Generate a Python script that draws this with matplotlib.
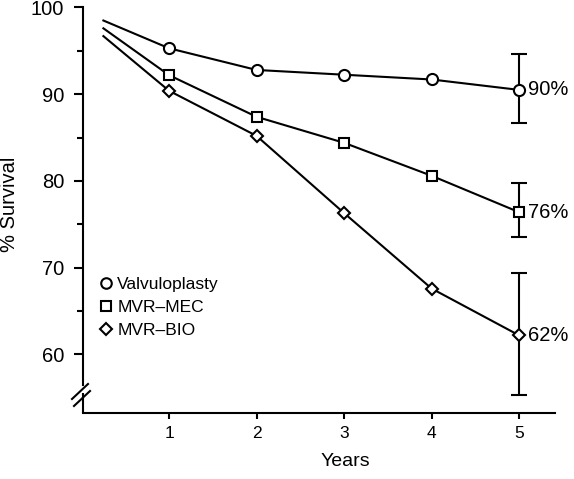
import matplotlib
matplotlib.use("Agg")
import matplotlib.pyplot as plt
from matplotlib.lines import Line2D

plt.rcParams['font.family'] = ['Liberation Sans', 'DejaVu Sans']

years = [1, 2, 3, 4, 5]
start_x = 0.25
series_names = ["Valvuloplasty", "MVR\u2013MEC", "MVR\u2013BIO"]
start_vals = [98.5, 97.6, 96.7]
valv = [95.3, 92.8, 92.25, 91.7, 90.5]
mec = [92.2, 87.4, 84.4, 80.6, 76.4]
bio = [90.4, 85.2, 76.3, 67.6, 62.2]
err_hi = [94.6, 79.8, 69.4]
err_lo = [86.7, 73.5, 55.3]
end_labels = ["90%", "76%", "62%"]
markers = ["o", "s", "D"]
msizes = [8, 7.5, 6.5]

W, H = 574, 479
fig = plt.figure(figsize=(W / 100, H / 100), dpi=100)
L, R, T, B = 83, 555, 7.5, 413
ax = fig.add_axes([L / W, 1 - B / H, (R - L) / W, (B - T) / H])
ymin, ymax = 53.25, 100
ax.set_xlim(0.017, 5.41)
ax.set_ylim(ymin, ymax)

lw = 1.5
for vals, s0, m, ms, hi, lo, lab in zip([valv, mec, bio], start_vals, markers, msizes,
                                         err_hi, err_lo, end_labels):
    ax.plot([start_x] + years, [s0] + vals, color='black', lw=lw, zorder=2)
    ax.plot(years, vals, linestyle='none', marker=m, ms=ms, mfc='white',
            mec='black', mew=1.5, zorder=4)
    ax.errorbar([years[-1]], [vals[-1]],
                yerr=[[vals[-1] - lo], [hi - vals[-1]]],
                fmt='none', ecolor='black', elinewidth=lw, capsize=6,
                capthick=lw, zorder=3)
    ax.annotate(lab, (years[-1], vals[-1]), xytext=(6.5, 0),
                textcoords='offset points', ha='left', va='center', fontsize=14.5)

for side in ['top', 'right']:
    ax.spines[side].set_visible(False)
for side in ['left', 'bottom']:
    ax.spines[side].set_linewidth(1.5)

def to_ax(px, py):
    return ((px - L) / (R - L), (B - py) / (B - T))

# y axis break
gap_top = to_ax(0, 385)[1]
gap_bot = to_ax(0, 393)[1]
ax.spines['left'].set_bounds(ymin + (ymax - ymin) * gap_top, ymax)
ax.plot([0, 0], [0, gap_bot], transform=ax.transAxes, color='black', lw=1.5,
        clip_on=False, solid_capstyle='butt')
for (x0, y0, x1, y1) in [(72, 399, 88, 384), (74, 406, 90, 391)]:
    a = to_ax(x0, y0)
    b = to_ax(x1, y1)
    ax.plot([a[0], b[0]], [a[1], b[1]], transform=ax.transAxes, color='black',
            lw=1.5, clip_on=False)

ax.set_xticks(years)
ax.set_yticks([60, 70, 80, 90, 100])
ax.set_yticks([65, 75, 85, 95], minor=True)
ax.tick_params(axis='y', which='major', length=6.5, width=1.5, pad=7, labelsize=14.5)
ax.tick_params(axis='y', which='minor', length=4.3, width=1.5)
ax.tick_params(axis='x', which='major', length=4, width=1.5, pad=5, labelsize=12.5)
ax.tick_params(axis='x', which='minor', length=0)

fig.text(10 / W, 1 - 204.5 / H, "% Survival", fontsize=14.5, rotation=90,
         ha='center', va='center')
fig.text(345 / W, 1 - 462 / H, "Years", fontsize=14, ha='center', va='center')

handles = [Line2D([], [], linestyle='none', marker=m, ms=ms * 0.95, mfc='white',
                  mec='black', mew=1.5) for m, ms in zip(markers, msizes)]
leg = ax.legend(handles, series_names, loc='upper left',
                bbox_to_anchor=(99 / W, 1 - 277 / H), bbox_transform=fig.transFigure,
                frameon=False, fontsize=12.5, handlelength=0.8, handletextpad=0.25,
                labelspacing=0.44, borderpad=0, borderaxespad=0)

fig.savefig("out.png", dpi=100)
